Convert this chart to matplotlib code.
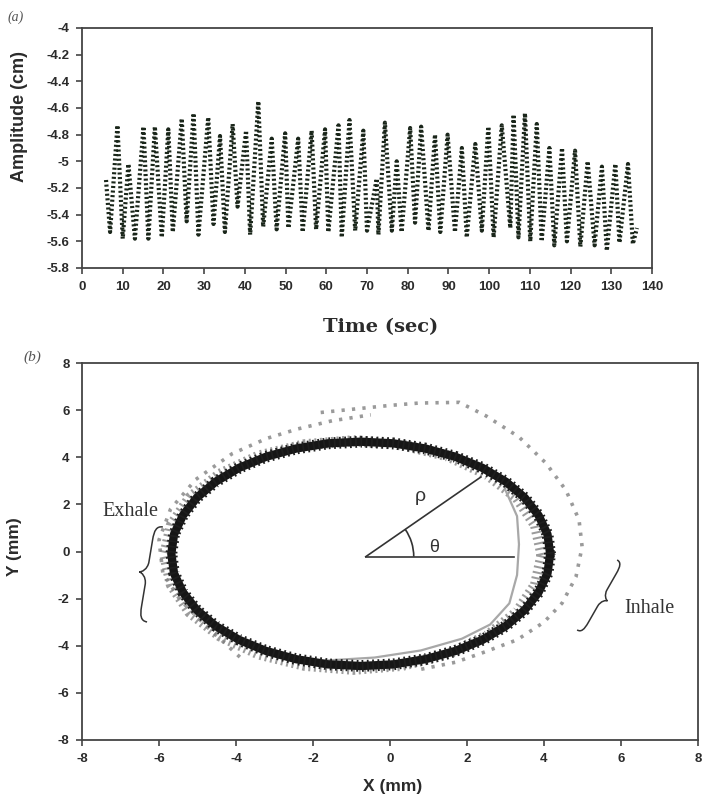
import numpy as np
import matplotlib
matplotlib.use("Agg")
import matplotlib.pyplot as plt
from matplotlib.path import Path
from matplotlib.patches import PathPatch, Arc

# ---------------- data: panel (a) breathing trace turning points ----------------
turn_t = [5.9, 6.9, 8.7, 10.0, 11.4, 13.0, 15.1, 16.3, 17.9, 19.6, 21.2, 22.3, 24.5, 25.7,
          27.4, 28.6, 31.0, 32.3, 33.9, 35.1, 37.0, 38.2, 40.3, 41.3, 43.3, 44.5, 46.6, 47.8,
          49.9, 50.7, 53.1, 54.2, 56.4, 57.5, 59.7, 60.5, 63.0, 63.8, 65.7, 67.1, 69.1, 70.0,
          72.4, 72.8, 74.4, 76.1, 77.3, 78.5, 80.6, 81.8, 83.3, 85.1, 86.7, 88.0, 89.8, 91.6,
          93.3, 94.5, 96.6, 98.2, 99.8, 101.1, 103.1, 105.2, 106.0, 107.2, 108.8, 110.1, 111.7,
          112.9, 114.8, 116.0, 117.9, 119.1, 121.1, 122.4, 124.2, 125.9, 127.7, 128.9, 131.0,
          132.0, 134.1, 135.3, 136.3]
turn_amp = [-5.14, -5.53, -4.73, -5.58, -5.02, -5.58, -4.74, -5.58, -4.74, -5.57, -4.76, -5.53,
            -4.68, -5.45, -4.64, -5.55, -4.67, -5.47, -4.81, -5.53, -4.72, -5.34, -4.77, -5.55,
            -4.55, -5.49, -4.83, -5.51, -4.79, -5.50, -4.83, -5.53, -4.77, -5.51, -4.76, -5.53,
            -4.73, -5.57, -4.69, -5.52, -4.77, -5.52, -5.13, -5.55, -4.71, -5.52, -5.00, -5.53,
            -4.75, -5.46, -4.74, -5.52, -4.80, -5.53, -4.80, -5.53, -4.90, -5.57, -4.87, -5.52,
            -4.74, -5.57, -4.73, -5.50, -4.65, -5.57, -4.64, -5.60, -4.72, -5.60, -4.90, -5.63,
            -4.90, -5.60, -4.92, -5.64, -5.00, -5.63, -5.04, -5.67, -5.02, -5.61, -5.02, -5.62,
            -5.50]
time_ticks = list(range(0, 141, 10))
amp_ticks = [-5.8, -5.6, -5.4, -5.2, -5.0, -4.8, -4.6, -4.4, -4.2, -4.0]
amp_labels = ["-5.8", "-5.6", "-5.4", "-5.2", "-5", "-4.8", "-4.6", "-4.4", "-4.2", "-4"]

# ---------------- data: panel (b) trajectory traces ----------------
# main dense loop
loopA_x = [4.16, 4.09, 3.86, 3.50, 3.01, 2.40, 1.70, 0.92, 0.09, -0.76, -1.61, -2.44, -3.22,
           -3.92, -4.53, -5.02, -5.38, -5.61, -5.68, -5.61, -5.38, -5.02, -4.53, -3.92, -3.22,
           -2.44, -1.61, -0.76, 0.09, 0.92, 1.70, 2.40, 3.01, 3.50, 3.86, 4.09, 4.16]
loopA_y = [-0.10, 0.73, 1.53, 2.28, 2.96, 3.55, 4.02, 4.37, 4.59, 4.66, 4.59, 4.37, 4.02, 3.55,
           2.96, 2.28, 1.53, 0.73, -0.10, -0.93, -1.73, -2.48, -3.16, -3.75, -4.22, -4.57,
           -4.79, -4.86, -4.79, -4.57, -4.22, -3.75, -3.16, -2.48, -1.73, -0.93, -0.10]
# scattered cycles (texture)
loopB_x = [3.95, 3.78, 3.30, 2.52, 1.51, 0.32, -0.95, -2.22, -3.41, -4.42, -5.20, -5.68, -5.85,
           -5.68, -5.20, -4.42, -3.41, -2.22, -0.95, 0.32, 1.51, 2.52, 3.30, 3.78, 3.95]
loopB_y = [-0.15, 1.11, 2.28, 3.28, 4.05, 4.53, 4.70, 4.53, 4.05, 3.28, 2.28, 1.11, -0.15, -1.41,
           -2.58, -3.58, -4.35, -4.83, -5.00, -4.83, -4.35, -3.58, -2.58, -1.41, -0.15]
# outer irregular cycle (right side)
outer1_x = [-1.8, -0.9, 0.0, 0.75, 1.8, 2.5, 3.35, 4.05, 4.57, 4.91, 4.99, 4.83, 4.47, 4.0,
            3.3, 2.4, 1.7, 0.8]
outer1_y = [5.9, 6.05, 6.2, 6.3, 6.33, 5.75, 4.86, 3.75, 2.6, 1.34, 0.2, -1.08, -2.19, -3.0,
            -3.75, -4.3, -4.7, -5.0]
# outer irregular cycle (left side)
outer2_x = [-3.9, -4.75, -5.45, -5.9, -6.0, -5.7, -5.05, -4.1, -3.2, -2.4, -1.5, -0.5]
outer2_y = [-4.48, -3.2, -2.06, -0.92, 0.49, 1.8, 3.05, 4.15, 4.8, 5.2, 5.55, 5.8]
# inner light cycle
inner_x = [3.0, 3.3, 3.35, 3.3, 3.1, 2.6, 1.87, 0.8, -0.4, -1.9]
inner_y = [2.6, 1.5, 0.3, -1.0, -2.2, -3.1, -3.7, -4.2, -4.5, -4.65]
mm_ticks = [-8, -6, -4, -2, 0, 2, 4, 6, 8]

SANS = "Liberation Sans"
SERIF = "Liberation Serif"
INK = "#2b2b2b"

fig = plt.figure(figsize=(7.03, 7.96), dpi=100)
axa = fig.add_axes([82 / 703, 1 - 268 / 796, 570 / 703, 240 / 796])
axb = fig.add_axes([82 / 703, 1 - 740 / 796, 616 / 703, 377 / 796])

for ax in (axa, axb):
    for s in ax.spines.values():
        s.set_color("#444444")
        s.set_linewidth(1.3)
    ax.tick_params(direction="out", length=4, width=1.2, color="#444444", pad=5,
                   labelsize=9.5, labelcolor=INK)

# ---------------- panel (a) ----------------
axa.plot(turn_t, turn_amp, color="#1a261a", lw=3.0, ls=(0, (0.5, 0.6)))
axa.set_xlim(0, 140)
axa.set_ylim(-5.8, -4.0)
axa.set_xticks(time_ticks)
axa.set_xticklabels([str(v) for v in time_ticks], fontweight="bold", family=SANS)
axa.set_yticks(amp_ticks)
axa.set_yticklabels(amp_labels, fontweight="bold", family=SANS)

fig.text(20 / 703, 1 - 117 / 796, "Amplitude (cm)", rotation=90, ha="center", va="center",
         fontsize=13, fontweight="bold", family=SANS, color=INK)
fig.text(381 / 703, 1 - 327 / 796, "Time (sec)", ha="center", va="center",
         fontsize=14, fontweight="heavy", family="DejaVu Serif", color=INK)
fig.text(16 / 703, 1 - 17 / 796, "(a)", ha="center", va="center", fontsize=10,
         style="italic", family=SERIF, color="#555555")

# ---------------- panel (b) ----------------
axb.plot(outer1_x, outer1_y, color="#9a9a9a", lw=2.6, ls=(0, (0.9, 2.0)))
axb.plot(outer2_x, outer2_y, color="#9a9a9a", lw=2.6, ls=(0, (0.9, 2.0)))
axb.plot(loopB_x, loopB_y, color="#7a7a7a", lw=8, ls=(0, (0.18, 0.32)), alpha=0.75)
axb.plot(inner_x, inner_y, color="#a8a8a8", lw=1.6)
axb.plot(loopA_x, loopA_y, color="#161616", lw=6.0, solid_joinstyle="round")
axb.plot(loopA_x, loopA_y, color="#1e1e1e", lw=8.5, ls=(0, (0.15, 0.3)))

axb.set_xlim(-8, 8)
axb.set_ylim(-8, 8)
axb.set_xticks(mm_ticks)
axb.set_xticklabels([str(v) for v in mm_ticks], fontweight="bold", family=SANS)
axb.set_yticks(mm_ticks)
axb.set_yticklabels([str(v) for v in mm_ticks], fontweight="bold", family=SANS)

# polar annotation
cx, cy = -0.63, -0.22
axb.plot([cx, 3.22], [cy, cy], color="#333333", lw=1.2)
axb.plot([cx, 2.36], [cy, 3.16], color="#333333", lw=1.2)
ang = np.degrees(np.arctan2(3.16 - cy, 2.36 - cx))
axb.add_patch(Arc((cx, cy), width=2 * 48 / 38.5, height=2 * 48 / 23.56, theta1=0, theta2=ang,
                  color="#333333", lw=1.2))
axb.text(0.8, 2.33, "ρ", fontsize=14, family=SANS, ha="center", va="center", color="#333333")
axb.text(1.14, 0.19, "θ", fontsize=13, family=SANS, ha="center", va="center", color="#333333")


def brace(ax, p0, p1, d, side, lw=1.1, color="#333333"):
    T = ax.transData
    a = T.transform(p0)
    b = T.transform(p1)
    u = b - a
    L = np.hypot(*u)
    e = u / L
    n = np.array([-e[1], e[0]])
    if np.sign(n[0]) != side:
        n = -n
    loc = [(0, 0), (0, 0.4 * d), (0.05 * L, 0.5 * d), (0.15 * L, 0.5 * d),
           (0.38 * L, 0.5 * d),
           (0.46 * L, 0.5 * d), (0.5 * L, 0.85 * d), (0.5 * L, d),
           (0.5 * L, 0.85 * d), (0.54 * L, 0.5 * d), (0.62 * L, 0.5 * d),
           (0.85 * L, 0.5 * d),
           (0.95 * L, 0.5 * d), (L, 0.4 * d), (L, 0)]
    codes = [Path.MOVETO, Path.CURVE4, Path.CURVE4, Path.CURVE4, Path.LINETO,
             Path.CURVE4, Path.CURVE4, Path.CURVE4, Path.CURVE4, Path.CURVE4, Path.CURVE4,
             Path.LINETO, Path.CURVE4, Path.CURVE4, Path.CURVE4]
    pts = np.array([a + s * e + t * n for s, t in loc])
    data = T.inverted().transform(pts)
    ax.add_patch(PathPatch(Path(data, codes), fill=False, lw=lw, ec=color,
                           transform=ax.transData))


brace(axb, (-5.90, 1.04), (-6.31, -2.99), 16, -1)
brace(axb, (5.9, -0.36), (4.86, -3.33), 12, +1)
axb.text(-6.75, 1.7, "Exhale", fontsize=14.5, family=SERIF, ha="center", va="center",
         color="#333333")
axb.text(6.73, -2.4, "Inhale", fontsize=14.5, family=SERIF, ha="center", va="center",
         color="#333333")
axb.set_xlim(-8, 8)
axb.set_ylim(-8, 8)

fig.text(393 / 703, 1 - 787 / 796, "X (mm)", ha="center", va="center", fontsize=12.5,
         fontweight="bold", family=SANS, color=INK)
fig.text(15 / 703, 1 - 547 / 796, "Y (mm)", rotation=90, ha="center", va="center",
         fontsize=12.5, fontweight="bold", family=SANS, color=INK)
fig.text(32 / 703, 1 - 357 / 796, "(b)", ha="center", va="center", fontsize=11,
         style="italic", family=SERIF, color="#555555")

fig.savefig("out.png", dpi=100)
